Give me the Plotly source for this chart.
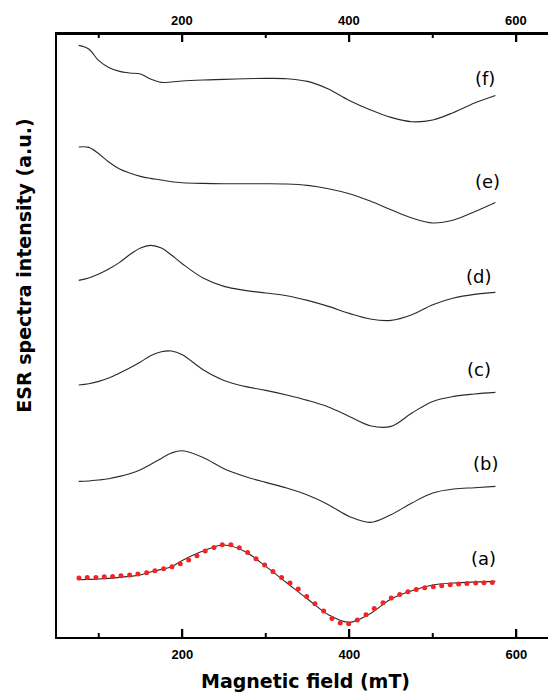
import plotly.graph_objects as go

# Magnetic field grid (mT) used for the six spectra
field = [76, 88, 100, 112, 125, 137, 150, 162, 175, 187, 200, 225, 250, 275,
         300, 325, 350, 375, 400, 425, 450, 475, 500, 525, 550, 575]

spec_f = [591.6, 588.0, 576.3, 569.6, 565.6, 564.0, 563.0, 558.0, 554.6, 555.0,
          556.0, 557.0, 557.6, 558.3, 558.6, 558.3, 555.6, 548.0, 536.6, 527.3,
          519.6, 515.3, 517.0, 524.6, 534.0, 541.6]
spec_e = [490.0, 489.6, 483.3, 475.0, 468.0, 464.0, 460.6, 458.6, 457.0, 455.3,
          454.3, 453.6, 453.3, 453.3, 453.3, 453.0, 451.6, 448.3, 443.3, 436.0,
          427.3, 419.0, 414.0, 417.0, 425.3, 434.6]
spec_d = [356.6, 359.0, 363.0, 368.0, 374.6, 382.3, 389.0, 391.6, 389.0, 382.0,
          373.3, 359.0, 350.6, 346.6, 344.0, 341.3, 336.6, 330.6, 323.6, 318.0,
          316.6, 322.3, 332.3, 339.0, 342.6, 344.6]
spec_c = [252.0, 253.3, 255.6, 259.0, 264.0, 269.0, 275.0, 281.3, 285.3, 286.0,
          282.3, 267.3, 256.6, 250.6, 246.6, 242.0, 236.6, 230.0, 220.6, 211.3,
          210.6, 224.0, 235.6, 240.6, 243.0, 244.6]
spec_b = [155.6, 156.0, 157.0, 158.3, 160.6, 163.3, 167.3, 172.6, 178.6, 184.0,
          186.3, 179.6, 168.3, 160.6, 154.6, 149.0, 142.0, 132.3, 120.6, 114.6,
          122.3, 134.0, 144.0, 148.0, 149.3, 150.6]
spec_a = [57.3, 57.6, 58.0, 58.6, 59.6, 60.6, 62.0, 65.0, 67.6, 70.3,
          76.6, 86.0, 92.0, 85.6, 70.6, 54.3, 38.0, 22.3, 14.6, 23.3,
          38.0, 46.3, 52.0, 54.0, 55.0, 55.6]

# Simulated fit of (a) shown as red dots
fit_field = [76.3, 86.2, 96.6, 106.6, 116.6, 126.6, 137.0, 146.9, 157.4, 167.3,
             177.7, 187.7, 197.6, 207.7, 217.6, 227.5, 238.0, 247.9, 258.3, 268.3,
             278.3, 288.3, 298.7, 308.6, 319.0, 329.0, 338.9, 349.0, 358.9, 369.3,
             379.3, 389.2, 399.3, 409.6, 420.0, 429.9, 440.4, 450.3, 460.4, 470.3,
             480.2, 490.3, 500.6, 510.7, 520.9, 531.0, 540.9, 551.4, 561.3, 571.3]
fit_a = [59.0, 59.6, 59.6, 60.3, 60.6, 61.3, 62.0, 63.0, 64.3, 66.3,
         68.3, 70.3, 73.3, 77.0, 81.3, 86.0, 89.6, 92.3, 92.3, 89.3,
         84.6, 78.3, 72.0, 65.6, 59.6, 54.0, 48.0, 40.6, 33.3, 26.0,
         18.6, 14.0, 13.3, 17.0, 22.3, 28.6, 34.3, 39.0, 42.6, 45.3,
         47.6, 49.3, 50.3, 51.3, 52.3, 53.0, 53.6, 54.0, 54.3, 54.6]

labels = ["(a)", "(b)", "(c)", "(d)", "(e)", "(f)"]
label_x = [561.3, 563.4, 555.3, 555.3, 565.3, 562.2]
label_y = [79.0, 174.0, 267.3, 360.6, 455.6, 559.0]

major_ticks = [200, 400, 600]
minor_ticks = [100, 300, 500]

fig = go.Figure()
for s in [spec_a, spec_b, spec_c, spec_d, spec_e, spec_f]:
    fig.add_trace(go.Scatter(x=field, y=s, mode="lines", line_shape="spline",
                             line=dict(color="#2a2a2a", width=1.1),
                             showlegend=False, hoverinfo="skip"))
fig.add_trace(go.Scatter(x=fit_field, y=fit_a, mode="markers",
                         marker=dict(color="#f22424", size=5),
                         showlegend=False, hoverinfo="skip"))

for t, lx, ly in zip(labels, label_x, label_y):
    fig.add_annotation(x=lx, y=ly, xref="x", yref="y", text=t, showarrow=False,
                       font=dict(family="DejaVu Sans", size=18, color="black"),
                       xanchor="center", yanchor="middle")

tickfont = dict(family="Liberation Sans", size=13, color="black", weight="bold")

# frame line and inward ticks of the mirrored top axis, plus bottom ticks
fig.add_shape(type="line", xref="paper", yref="paper", x0=0, x1=1, y0=1, y1=1,
              line=dict(color="black", width=2), layer="above")
for ticks, ln in ((major_ticks, 8), (minor_ticks, 4)):
    for t in ticks:
        fig.add_shape(type="line", xref="x", x0=t, x1=t, yref="paper",
                      ysizemode="pixel", yanchor=1, y0=0, y1=-ln,
                      line=dict(color="black", width=2), layer="above")
        fig.add_shape(type="line", xref="x", x0=t, x1=t, yref="paper",
                      ysizemode="pixel", yanchor=0, y0=0, y1=ln,
                      line=dict(color="black", width=2), layer="above")

# tick labels of the mirrored top axis
for t in major_ticks:
    fig.add_annotation(x=t, y=1, xref="x", yref="paper", text=str(t),
                       showarrow=False, font=tickfont, xanchor="center",
                       yanchor="bottom", yshift=4)

fig.add_annotation(x=0.507, y=-0.0725, xref="paper", yref="paper",
                   text="<b>Magnetic field (mT)</b>", showarrow=False,
                   font=dict(family="DejaVu Sans", size=19, color="black"),
                   xanchor="center", yanchor="middle")
fig.add_annotation(x=-0.0672, y=0.6158, xref="paper", yref="paper",
                   text="<b>ESR spectra intensity (a.u.)</b>", showarrow=False,
                   textangle=-90,
                   font=dict(family="DejaVu Sans", size=19, color="black"),
                   xanchor="center", yanchor="middle")

fig.update_layout(
    width=548, height=695,
    margin=dict(l=57, r=0, t=34, b=58),
    paper_bgcolor="white", plot_bgcolor="white",
    xaxis=dict(range=[50, 638], tickvals=major_ticks, ticks="inside", ticklen=8,
               tickwidth=2, tickcolor="black", showline=True, linecolor="black",
               linewidth=2, mirror="allticks", showgrid=False, zeroline=False,
               tickfont=tickfont, ticklabelstandoff=4),
    yaxis=dict(range=[0, 603], showline=True, linecolor="black", linewidth=2,
               showticklabels=False, ticks="", showgrid=False, zeroline=False),
)

fig.write_html("out.html", config={"displayModeBar": False},
               post_script="document.body.style.margin='0';"
                           "document.body.style.overflow='hidden';"
                           "document.documentElement.style.overflow='hidden';")
